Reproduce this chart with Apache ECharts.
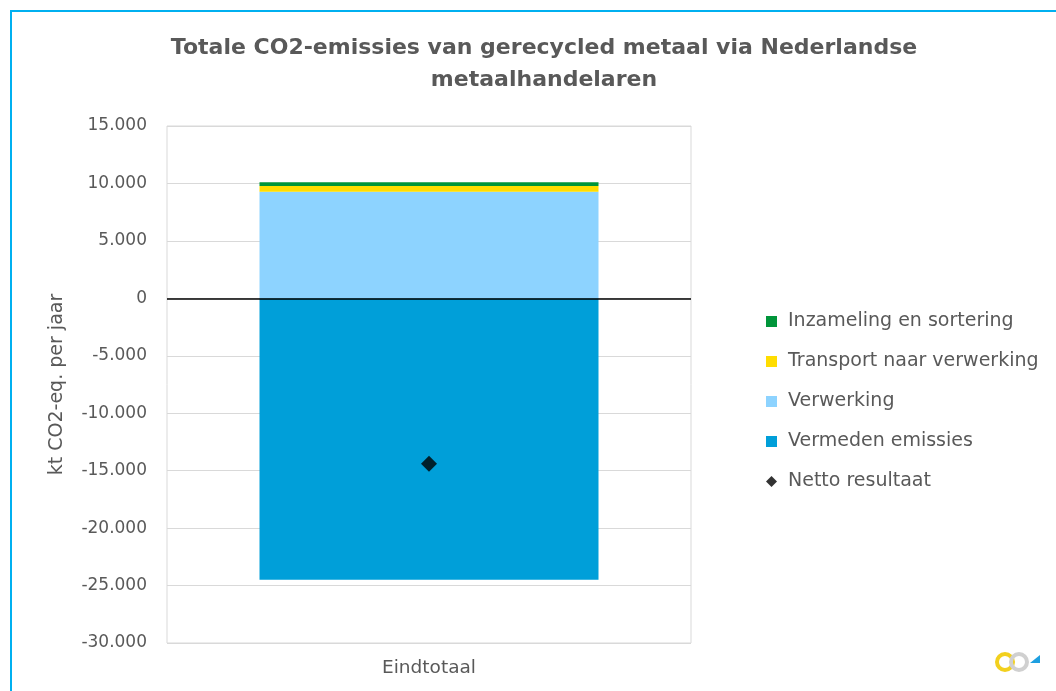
<!DOCTYPE html>
<html><head><meta charset="utf-8">
<script src="https://cdn.jsdelivr.net/npm/echarts@6/dist/echarts.min.js"></script>
<style>
html,body{margin:0;padding:0;background:#fff;}
#frame{position:absolute;left:10px;top:10px;width:1100px;height:740px;border:2px solid #00B0F0;box-sizing:border-box;}
#c{position:absolute;left:0;top:0;width:1056px;height:691px;}
</style></head>
<body>
<div id="frame"></div>
<div id="c"></div>
<script>
const categories = ['Eindtotaal'];
const inzameling = [320];
const transport = [500];
const verwerking = [9280];
const vermeden = [-24490];
const netto = [-14390];
const seriesNames = ['Inzameling en sortering','Transport naar verwerking','Verwerking','Vermeden emissies','Netto resultaat'];

const chart = echarts.init(document.getElementById('c'));
const fmt = v => v === 0 ? '0' : (v < 0 ? '-' : '') + Math.abs(v).toString().replace(/\B(?=(\d{3})+(?!\d))/g, '.');
const font = 'DejaVu Sans';
chart.setOption({
  animation: false,
  textStyle: {fontFamily: font},
  title: {
    text: 'Totale CO2-emissies van gerecycled metaal via Nederlandse\nmetaalhandelaren',
    left: 539, top: 27, textAlign: 'center',
    textStyle: {fontFamily: font, fontSize: 22, fontWeight: 'bold', color: '#595959', lineHeight: 32}
  },
  grid: {left: 167, top: 126, width: 524, height: 517, show: true, borderColor: '#d9d9d9', borderWidth: 1},
  legend: {
    orient: 'vertical', left: 761, top: 307, itemWidth: 11, itemHeight: 11, itemGap: 21,
    data: [
      {name: seriesNames[0], icon: 'rect'},
      {name: seriesNames[1], icon: 'rect'},
      {name: seriesNames[2], icon: 'rect'},
      {name: seriesNames[3], icon: 'rect'},
      {name: seriesNames[4], icon: 'diamond', itemStyle: {}}
    ],
    textStyle: {fontFamily: font, fontSize: 19, lineHeight: 19, color: '#595959', padding: [0,0,0,6]}
  },
  xAxis: {
    type: 'category', data: categories,
    axisLine: {show: false}, axisTick: {show: false},
    axisLabel: {fontFamily: font, fontSize: 18.5, color: '#595959', margin: 16}
  },
  yAxis: {
    type: 'value', min: -30000, max: 15000, interval: 5000,
    name: 'kt CO2-eq. per jaar', nameLocation: 'middle', nameGap: 100,
    nameTextStyle: {fontFamily: font, fontSize: 19, color: '#595959'},
    axisLine: {show: false}, axisTick: {show: false},
    axisLabel: {fontFamily: font, fontSize: 17, color: '#595959', margin: 20, formatter: fmt},
    splitLine: {lineStyle: {color: '#d9d9d9'}}
  },
  series: [
    {name: seriesNames[3], type: 'bar', stack: 's', data: vermeden, barWidth: 339, itemStyle: {color: '#009FD9'},
     markLine: {silent: true, symbol: 'none', label: {show: false}, lineStyle: {color: '#000', width: 1.5, type: 'solid'}, data: [{yAxis: 0}]}},
    {name: seriesNames[2], type: 'bar', stack: 's', data: verwerking, barWidth: 339, itemStyle: {color: '#8DD3FF'}},
    {name: seriesNames[1], type: 'bar', stack: 's', data: transport, barWidth: 339, itemStyle: {color: '#FFDD00'}},
    {name: seriesNames[0], type: 'bar', stack: 's', data: inzameling, barWidth: 339, itemStyle: {color: '#00953A'}},
    {name: seriesNames[4], type: 'scatter', data: netto, symbol: 'diamond', symbolSize: 16, itemStyle: {color: '#000'}, z: 5}
  ],
  graphic: [
    {type: 'ring', shape: {cx: 1005, cy: 662, r: 10, r0: 6}, style: {fill: '#F2D01E'}},
    {type: 'ring', shape: {cx: 1019, cy: 662, r: 10, r0: 6}, style: {fill: '#D0D0D0'}},
    {type: 'polygon', shape: {points: [[1030,663],[1040,655],[1040,663]]}, style: {fill: '#1E9FE0'}}
  ]
});
</script>
</body></html>
